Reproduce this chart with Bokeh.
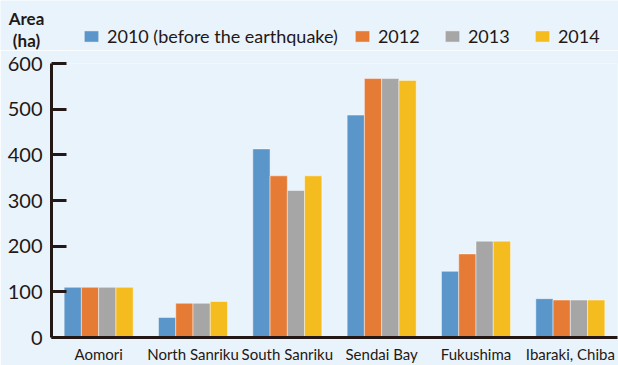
from bokeh.plotting import figure
from bokeh.models import FactorRange, Range1d, Legend, LegendItem, Label, ColumnDataSource
from bokeh.layouts import column
from bokeh.transform import dodge
from bokeh.embed import file_html
from bokeh.resources import INLINE

regions = ["Aomori", "North Sanriku", "South Sanriku", "Sendai Bay", "Fukushima", "Ibaraki, Chiba"]
series_names = ["2010 (before the earthquake)", "2012", "2013", "2014"]
v2010 = [110, 44, 413, 487, 145, 85]
v2012 = [110, 75, 354, 567, 183, 82]
v2013 = [110, 75, 322, 567, 211, 82]
v2014 = [110, 79, 354, 563, 211, 82]
y_ticks = [0, 100, 200, 300, 400, 500, 600]
unit_lines = ["Area", "(ha)"]

colors = ["#5B96CB", "#E57B35", "#A6A6A6", "#F5BC1F"]
BG = "#E9F3FC"
DARK = "#231815"
cols = ["v2010", "v2012", "v2013", "v2014"]

src = ColumnDataSource(dict(region=regions, v2010=v2010, v2012=v2012, v2013=v2013, v2014=v2014))

# ---- header strip: unit label + legend ----
head = figure(width=618, height=50, x_range=Range1d(0, 618), y_range=Range1d(0, 50),
              x_axis_type=None, y_axis_type=None, output_backend="svg", toolbar_location=None,
              min_border=0)
head.frame_align = False
head.background_fill_color = BG
head.border_fill_color = BG
head.outline_line_color = None
head.grid.visible = False

# legend proxies (same data; categorical x on a numeric range is not drawn in the header)
proxies = [head.vbar(x="region", top=c, width=1, source=src, fill_color=col,
                     line_color="white", line_alpha=0.45) for c, col in zip(cols, colors)]
legend = Legend(items=[LegendItem(label=n, renderers=[r]) for n, r in zip(series_names, proxies)],
                orientation="horizontal", location=(82, 3),
                glyph_width=18, glyph_height=14, label_standoff=7, spacing=15,
                padding=0, margin=0, border_line_color=None, background_fill_alpha=0,
                label_text_font="Lato", label_text_font_size="18px", label_text_color=DARK,
                label_height=20, label_width=50)
head.add_layout(legend, "center")
for txt, yy in zip(unit_lines, [32, 10]):
    head.add_layout(Label(x=26, y=yy, text=txt, text_font="Lato", text_font_style="bold",
                          text_font_size="17px", text_color=DARK, text_align="center",
                          text_baseline="middle"))

# ---- main chart ----
p = figure(width=618, height=315, x_range=FactorRange(*regions, range_padding=0),
           y_range=Range1d(0, 600), output_backend="svg", toolbar_location=None,
           min_border_left=51, min_border_right=1, min_border_top=13, min_border_bottom=28)
p.frame_align = False
p.background_fill_color = BG
p.border_fill_color = BG
p.outline_line_color = None
p.grid.visible = False

bw = 0.183
offsets = [-1.5 * bw, -0.5 * bw, 0.5 * bw, 1.5 * bw]
for c, off, col in zip(cols, offsets, colors):
    p.vbar(x=dodge("region", off, range=p.x_range), top=c, width=bw, source=src,
           fill_color=col, line_color="white", line_alpha=0.45, line_width=1)

yax = p.yaxis[0]
yax.ticker = y_ticks
yax.axis_line_width = 3
yax.axis_line_color = DARK
yax.major_tick_in = 15
yax.major_tick_out = 0
yax.major_tick_line_width = 3
yax.major_tick_line_color = DARK
yax.minor_tick_line_color = None
yax.major_label_text_font = "Lato"
yax.major_label_text_font_size = "20px"
yax.major_label_text_color = DARK
yax.major_label_standoff = 9

xax = p.xaxis[0]
xax.axis_line_width = 3
xax.axis_line_color = DARK
xax.major_tick_in = 0
xax.major_tick_out = 0
xax.major_tick_line_color = None
xax.major_label_text_font = "Lato"
xax.major_label_text_font_size = "15px"
xax.major_label_text_color = DARK
xax.major_label_standoff = 7

layout = column(head, p, spacing=0)
open("out.html", "w").write(file_html(layout, INLINE))
